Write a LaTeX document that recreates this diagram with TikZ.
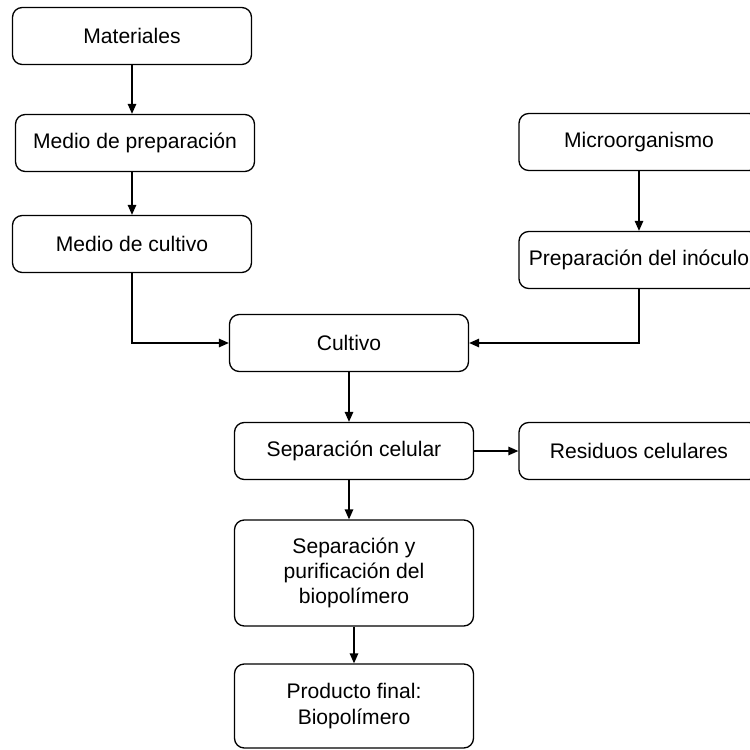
\documentclass[tikz,border=0pt]{standalone}
\usepackage{fontspec}
\setmainfont{Liberation Sans}
\usetikzlibrary{arrows.meta}
\begin{document}
\begin{tikzpicture}[x=0.02cm,y=-0.02cm,
  every node/.style={font=\fontsize{12}{14.4}\selectfont},
  etapa/.style={draw,line width=0.75pt,rounded corners=5.5pt,minimum width=4.78cm,minimum height=1.14cm,align=center,inner sep=2pt},
  flecha/.style={-{Triangle[length=2mm,width=1.7mm]},line width=0.75pt}]
  \useasboundingbox (0,0) rectangle (750,750);
  % columna izquierda
  \node[etapa] (mat) at (132,36) {Materiales};
  \node[etapa] (medprep) at (135,143) {Medio de preparación};
  \node[etapa] (medcult) at (132,244) {Medio de cultivo};
  % columna derecha
  \node[etapa,minimum width=4.8cm] (micro) at (639,142) {Microorganismo};
  \node[etapa,minimum width=4.8cm] (inoc) at (639,260) {Preparación del inóculo};
  % centro
  \node[etapa] (cult) at (349,343) {Cultivo};
  \node[etapa] (sepcel) at (354,451) {Separación celular};
  \node[etapa,minimum width=4.8cm] (resid) at (639,451) {Residuos celulares};
  \node[etapa,minimum height=2.12cm] (purif) at (354,573) {Separación y\\purificación del\\biopolímero};
  \node[etapa,minimum height=1.68cm] (prod) at (354,706) {Producto final:\\Biopolímero};
  % conectores
  \draw[flecha] (mat.south) -- (mat.south |- medprep.north);
  \draw[flecha] (medprep.south -| mat.south) -- (mat.south |- medcult.north);
  \draw[flecha] (medcult.south) |- (cult.west);
  \draw[flecha] (micro) -- (inoc);
  \draw[flecha] (inoc.south) |- (cult.east);
  \draw[flecha] (cult.south) -- (cult.south |- sepcel.north);
  \draw[flecha] (sepcel.east) -- (resid.west);
  \draw[flecha] (sepcel.south -| cult.south) -- (cult.south |- purif.north);
  \draw[flecha] (purif) -- (prod);
\end{tikzpicture}
\end{document}
